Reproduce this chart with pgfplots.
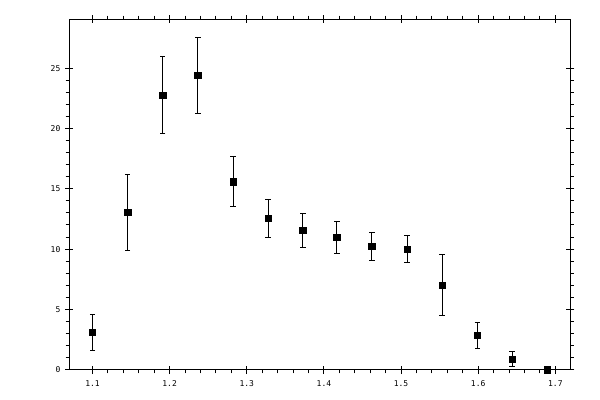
\documentclass[border=0pt]{standalone}
\usepackage{fontspec}
\setmainfont{DejaVu Sans Mono}
\usepackage{pgfplots}
\pgfplotsset{compat=1.18}

\pgfplotstableread{
x       y      e
1.1000  3.10   1.50
1.1455  13.05  3.15
1.1910  22.75  3.20
1.2366  24.40  3.17
1.2823  15.60  2.10
1.3277  12.55  1.60
1.3727  11.56  1.41
1.4169  10.98  1.32
1.4623  10.23  1.16
1.5078  9.98   1.12
1.5532  7.00   2.53
1.5987  2.85   1.07
1.6440  0.86   0.62
1.6896  0.00   0.00
}\datatable

\begin{document}
\begin{tikzpicture}
\begin{axis}[
  at={(0,0)}, anchor=south west,
  scale only axis,
  width=375.5pt, height=262.8pt,
  xmin=1.070, xmax=1.719,
  ymin=0, ymax=29.05,
  axis line style={line width=0.75pt},
  xtick={1.1,1.2,...,1.7},
  ytick={0,5,...,25},
  minor x tick num=4,
  minor y tick num=4,
  tick align=outside,
  major tick length=3.2pt,
  minor tick length=2.8pt,
  tick style={line width=0.75pt, black},
  xtick pos=both, ytick pos=both,
  xticklabel pos=bottom, yticklabel pos=left,
  extra x ticks={1.1,1.2,...,1.7},
  extra y ticks={0,5,...,25},
  extra x tick labels={},
  extra y tick labels={},
  extra tick style={tick align=inside, major tick length=3pt},
  /pgf/number format/assume math mode=true,
  /pgf/number format/fixed,
  /pgf/number format/precision=1,
  ticklabel style={font=\fontsize{6}{7}\selectfont},
  xticklabel style={yshift=-1.2pt},
  yticklabel style={xshift=0pt},
]
\addplot[black, only marks, mark=square*, mark size=2.45pt,
  error bars/.cd, y dir=both, y explicit,
  error bar style={line width=0.75pt},
  error mark options={rotate=90, mark size=2pt, line width=0.75pt}]
  table[x=x, y=y, y error=e] {\datatable};
\end{axis}
\path (-52pt,-22.7pt) rectangle (398pt,277.3pt);
\end{tikzpicture}
\end{document}
